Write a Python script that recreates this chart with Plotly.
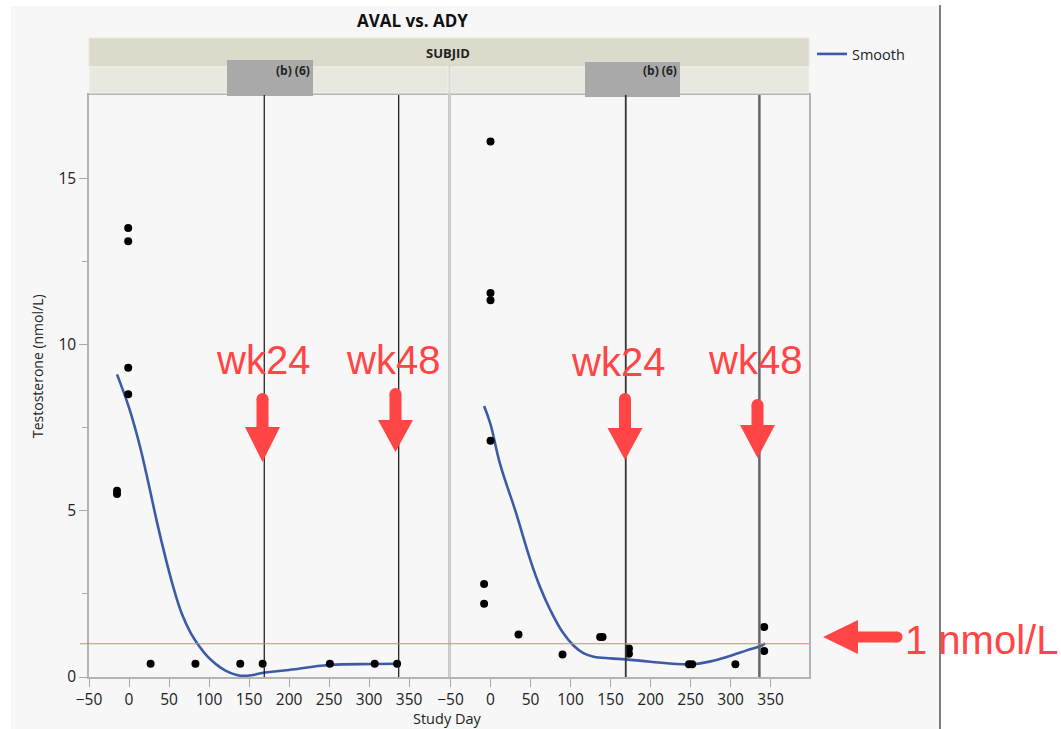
import plotly.graph_objects as go

# ---------------- data ----------------
left_day = [-15, -15, -1, -1, -1, -1, 27, 83, 139, 167, 251, 307, 335]
left_val = [5.6, 5.5, 13.5, 13.1, 9.3, 8.5, 0.4, 0.4, 0.4, 0.4, 0.4, 0.4, 0.4]

right_day = [0, 0, 0, 0, -8, -8, 35, 90, 137, 140, 173, 173, 248, 252, 306, 342, 342]
right_val = [16.1, 11.55, 11.33, 7.1, 2.8, 2.2, 1.28, 0.68, 1.2, 1.2, 0.86, 0.7, 0.38, 0.38, 0.38, 1.5, 0.78]

smooth_left_day = [-15, 0, 13, 25, 35, 46, 56, 66, 77, 88, 98, 108, 120, 139, 155, 166, 200, 250, 306, 335]
smooth_left_val = [9.1, 8.1, 7.0, 5.75, 4.65, 3.55, 2.65, 1.9, 1.33, 0.92, 0.62, 0.4, 0.2, 0.04, 0.06, 0.12, 0.21, 0.36, 0.39, 0.4]

smooth_right_day = [-8, 0, 12, 31, 50, 62, 75, 90, 104, 116, 129, 150, 169, 200, 250, 275, 296, 320, 340, 343]
smooth_right_val = [8.15, 7.6, 6.4, 5.0, 3.5, 2.7, 2.0, 1.35, 0.94, 0.72, 0.61, 0.56, 0.53, 0.46, 0.38, 0.47, 0.61, 0.8, 0.96, 1.02]

ref_days_left = [169, 337]
ref_days_right = [169, 336]
threshold = [1]

x_ticks = [-50, 0, 50, 100, 150, 200, 250, 300, 350]
y_ticks = [0, 5, 10, 15]

# ---------------- layout helpers ----------------
W, H = 1061, 729
ML, MR, MT, MB = 89, 252, 95, 52
PW = W - ML - MR
PH = H - MT - MB


def px(x):
    return (x - ML) / PW


def py(y):
    return (H - MB - y) / PH


RED = "#ff4545"
BLUE = "#3d5aa8"
FONT = "Open Sans"

fig = go.Figure()

fig.add_trace(go.Scatter(x=smooth_left_day, y=smooth_left_val, mode="lines",
                         line=dict(color=BLUE, width=2.6, shape="spline", smoothing=1.1),
                         name="Smooth", xaxis="x", yaxis="y", showlegend=True))
fig.add_trace(go.Scatter(x=smooth_right_day, y=smooth_right_val, mode="lines",
                         line=dict(color=BLUE, width=2.6, shape="spline", smoothing=1.1),
                         name="Smooth", xaxis="x2", yaxis="y2", showlegend=False))
fig.add_trace(go.Scatter(x=left_day, y=left_val, mode="markers", marker=dict(color="black", size=8),
                         xaxis="x", yaxis="y", showlegend=False))
fig.add_trace(go.Scatter(x=right_day, y=right_val, mode="markers", marker=dict(color="black", size=8),
                         xaxis="x2", yaxis="y2", showlegend=False))

axis_common = dict(showgrid=False, zeroline=False, showline=True, linecolor="#b4b4b4", linewidth=1.5,
                   mirror=True, ticks="outside", ticklen=8, tickcolor="#a8a8a8",
                   tickfont=dict(family=FONT, size=15.5, color="#222"))

xr = [-50, 398]
yr = [0, 17.5]
fig.update_layout(
    xaxis=dict(domain=[0, px(447.5)], range=xr, tickvals=x_ticks, **axis_common),
    xaxis2=dict(domain=[px(450.5), 1], range=xr, tickvals=x_ticks, anchor="y2", **axis_common),
    yaxis=dict(domain=[0, 1], range=yr, tickvals=y_ticks,
               minor=dict(tickvals=[2.5, 7.5, 12.5], ticks="outside", ticklen=5, tickcolor="#a8a8a8"),
               **axis_common),
    yaxis2=dict(domain=[0, 1], range=yr, anchor="x2", matches="y", showticklabels=False,
                **{k: v for k, v in axis_common.items() if k not in ("ticks", "ticklen", "tickcolor", "tickfont")}),
)

shapes = []
# background panel
shapes.append(dict(type="rect", xref="paper", yref="paper", x0=px(11), x1=px(940), y0=py(6), y1=py(H + 5),
                   fillcolor="#f7f7f7", line=dict(width=0), layer="below"))
shapes.append(dict(type="line", xref="paper", yref="paper", x0=px(940), x1=px(940), y0=py(5), y1=py(H + 5),
                   line=dict(color="#555", width=1.5)))
# header strips
shapes.append(dict(type="rect", xref="paper", yref="paper", x0=0, x1=1, y0=py(67), y1=py(38),
                   fillcolor="#dcdacb", line=dict(color="#e8e6dc", width=1)))
shapes.append(dict(type="rect", xref="paper", yref="paper", x0=0, x1=px(448), y0=py(93), y1=py(67),
                   fillcolor="#e8e8e0", line=dict(color="#f2f2ec", width=1)))
shapes.append(dict(type="rect", xref="paper", yref="paper", x0=px(451), x1=1, y0=py(93), y1=py(67),
                   fillcolor="#e8e8e0", line=dict(color="#f2f2ec", width=1)))
shapes.append(dict(type="line", xref="paper", yref="paper", x0=px(449.5), x1=px(449.5), y0=0, y1=py(67),
                   line=dict(color="#d6d6d6", width=2)))
# redaction boxes
shapes.append(dict(type="rect", xref="paper", yref="paper", x0=px(227), x1=px(313), y0=py(96), y1=py(60),
                   fillcolor="#a9a9a9", line=dict(width=0)))
shapes.append(dict(type="rect", xref="paper", yref="paper", x0=px(585), x1=px(680), y0=py(97), y1=py(62),
                   fillcolor="#a9a9a9", line=dict(width=0)))
# reference lines
for d in ref_days_left:
    shapes.append(dict(type="line", xref="x", yref="paper", x0=d, x1=d, y0=0, y1=py(95),
                       line=dict(color="#111", width=1.2)))
shapes.append(dict(type="line", xref="x2", yref="paper", x0=ref_days_right[0], x1=ref_days_right[0], y0=0, y1=py(95),
                   line=dict(color="#333", width=1.8)))
shapes.append(dict(type="line", xref="x2", yref="paper", x0=ref_days_right[1], x1=ref_days_right[1], y0=0, y1=py(95),
                   line=dict(color="#666", width=2.5)))
shapes.append(dict(type="line", xref="paper", yref="y", x0=px(80), x1=1, y0=threshold[0], y1=threshold[0],
                   line=dict(color="#f07a7a", width=1)))


def down_arrow(cx, top, base, tip, shaft=12, head=35):
    s = shaft / 2
    h = head / 2
    path = (f"M {px(cx - s)} {py(top)} L {px(cx + s)} {py(top)} L {px(cx + s)} {py(base)} "
            f"L {px(cx + h)} {py(base)} L {px(cx)} {py(tip)} L {px(cx - h)} {py(base)} "
            f"L {px(cx - s)} {py(base)} Z")
    shapes.append(dict(type="path", xref="paper", yref="paper", path=path, fillcolor=RED, line=dict(width=0)))
    shapes.append(dict(type="circle", xref="paper", yref="paper", x0=px(cx - s), x1=px(cx + s),
                       y0=py(top + s), y1=py(top - s), fillcolor=RED, line=dict(width=0)))


down_arrow(262.5, 399, 427, 462)
down_arrow(395.5, 394, 420, 452)
down_arrow(625, 399, 428, 460)
down_arrow(757.5, 405, 425, 458)

# left arrow for 1 nmol/L
cy, s, h = 637, 5.5, 17
path = (f"M {px(897)} {py(cy - s)} L {px(858)} {py(cy - s)} L {px(858)} {py(cy - h)} L {px(823)} {py(cy)} "
        f"L {px(858)} {py(cy + h)} L {px(858)} {py(cy + s)} L {px(897)} {py(cy + s)} Z")
shapes.append(dict(type="path", xref="paper", yref="paper", path=path, fillcolor=RED, line=dict(width=0)))
shapes.append(dict(type="circle", xref="paper", yref="paper", x0=px(897 - s), x1=px(897 + s),
                   y0=py(cy + s), y1=py(cy - s), fillcolor=RED, line=dict(width=0)))


def note(text, x, y, size, family=FONT, color="#222", **kw):
    d = dict(text=text, x=px(x), y=py(y), xref="paper", yref="paper", showarrow=False,
             xanchor="center", yanchor="middle", font=dict(family=family, size=size, color=color))
    d.update(kw)
    return d


annotations = [
    note("<b>AVAL vs. ADY</b>", 412, 20, 17, color="#111"),
    note("<b>SUBJID</b>", 448, 53, 13),
    note("<b>(b) (6)</b>", 312, 71, 12, xanchor="right"),
    note("<b>(b) (6)</b>", 679, 71, 12, xanchor="right"),
    note("Testosterone (nmol/L)", 37, 366, 14, textangle=-90),
    note("Study Day", 447, 718, 14.5),
    note("wk24", 262.5, 360, 40, family="Liberation Sans", color=RED),
    note("wk48", 393, 360, 40, family="Liberation Sans", color=RED),
    note("wk24", 618, 362, 40, family="Liberation Sans", color=RED),
    note("wk48", 755, 360, 40, family="Liberation Sans", color=RED),
    note("1 nmol/L", 981, 640, 40, family="Liberation Sans", color=RED),
]

fig.update_layout(
    width=W, height=H, margin=dict(l=ML, r=MR, t=MT, b=MB, pad=0),
    paper_bgcolor="white", plot_bgcolor="white",
    shapes=shapes, annotations=annotations,
    showlegend=True,
    legend=dict(x=px(812), y=py(38), xanchor="left", yanchor="top", bgcolor="rgba(0,0,0,0)",
                font=dict(family=FONT, size=14.5, color="#222"), itemwidth=30),
    font=dict(family=FONT),
)

fig.write_html("out.html", config={"displayModeBar": False},
               post_script="document.body.style.margin='0';")
